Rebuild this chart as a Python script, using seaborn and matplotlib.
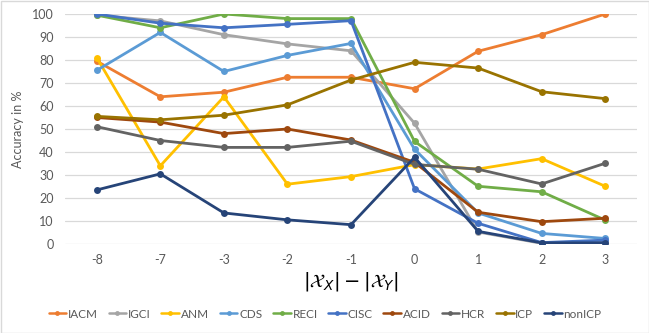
import matplotlib
matplotlib.use("Agg")
import matplotlib.pyplot as plt
import seaborn as sns
import pandas as pd
from matplotlib.patches import Rectangle

categories = ["-8", "-7", "-3", "-2", "-1", "0", "1", "2", "3"]
series_names = ["IACM", "IGCI", "ANM", "CDS", "RECI", "CISC", "ACID", "HCR", "ICP", "nonICP"]

IACM   = [79.5, 64.0, 66.0, 72.5, 72.5, 67.5, 83.8, 91.0, 100.0]
IGCI   = [99.5, 97.0, 91.0, 87.0, 84.0, 52.5, 5.2, 0.3, 1.0]
ANM    = [81.0, 34.0, 64.0, 26.0, 29.3, 34.5, 32.6, 37.1, 25.1]
CDS    = [75.5, 92.0, 75.0, 82.0, 87.2, 41.2, 13.5, 4.6, 2.4]
RECI   = [99.5, 94.0, 100.0, 98.0, 98.0, 44.6, 25.1, 22.7, 10.4]
CISC   = [100.0, 96.0, 94.0, 95.5, 97.1, 24.0, 9.0, 0.6, 1.7]
ACID   = [55.0, 53.0, 48.0, 50.0, 45.2, 35.5, 13.8, 9.7, 11.2]
HCR    = [51.0, 45.0, 42.0, 42.0, 44.7, 34.6, 32.5, 26.1, 35.1]
ICP    = [55.5, 54.0, 56.0, 60.5, 71.3, 79.0, 76.5, 66.2, 63.2]
nonICP = [23.5, 30.5, 13.5, 10.5, 8.4, 37.7, 5.5, 0.5, 0.5]

values = [IACM, IGCI, ANM, CDS, RECI, CISC, ACID, HCR, ICP, nonICP]
colors = ["#ED7D31", "#A5A5A5", "#FFC000", "#5B9BD5", "#70AD47",
          "#4472C4", "#9E480E", "#636363", "#997300", "#264478"]

rows = []
for name, vals in zip(series_names, values):
    for i, v in enumerate(vals):
        rows.append({"pos": i, "cat": categories[i], "acc": v, "series": name})
df = pd.DataFrame(rows)

sns.set_theme(style="white")
plt.rcParams["font.family"] = ["Lato", "DejaVu Sans"]

fig = plt.figure(figsize=(6.49, 3.33), dpi=100)
ax = fig.add_axes([65/649, 1 - 244/333, (637-65)/649, (244-14)/333])

sns.lineplot(data=df, x="pos", y="acc", hue="series", hue_order=series_names,
             palette=dict(zip(series_names, colors)), marker="o", markersize=5,
             markeredgewidth=0, linewidth=2, ax=ax, legend=True)

ax.set_xlim(-0.5, len(categories) - 0.5)
ax.set_ylim(0, 100)
ax.set_yticks(range(0, 101, 10))
ax.set_xticks(range(len(categories)))
ax.set_xticklabels(categories)
ax.grid(axis="y", color="#D9D9D9", linewidth=0.9)
ax.set_axisbelow(True)
for s in ax.spines.values():
    s.set_visible(False)
ax.tick_params(axis="both", length=0, labelsize=9, labelcolor="#595959")
ax.tick_params(axis="x", pad=7)
ax.tick_params(axis="y", pad=8)

ax.set_ylabel("Accuracy in %", fontsize=9, color="#595959", labelpad=6)
ax.set_xlabel(r"$|\mathcal{X}_X| - |\mathcal{X}_Y|$", fontsize=14, color="#000000", labelpad=3)

handles, labels = ax.get_legend_handles_labels()
for h in handles:
    h.set_linewidth(1.8)
    h.set_markersize(3.5)
leg = ax.legend(handles, labels, loc="center", bbox_to_anchor=((325-65)/572, (244-314)/230),
                ncol=10, frameon=False, fontsize=8.5, handlelength=1.5, handletextpad=0.15,
                columnspacing=0.9, labelcolor="#595959", borderpad=0)

fig.patches.append(Rectangle((0.5/649, 0.5/333), 1 - 1/649, 1 - 1/333, transform=fig.transFigure,
                             fill=False, edgecolor="#D9D9D9", linewidth=1))

fig.savefig("out.png", dpi=100)
